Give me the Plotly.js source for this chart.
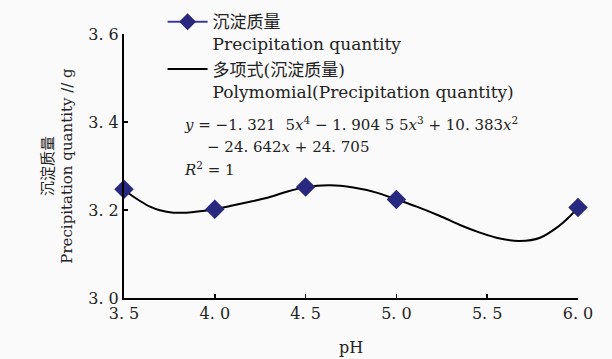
<!DOCTYPE html>
<html>
<head>
<meta charset="utf-8">
<script src="https://cdn.plot.ly/plotly-3.0.1.min.js"></script>
<style>html,body{margin:0;padding:0;background:#fafafa;}</style>
</head>
<body>
<div id="chart" style="width:612px;height:359px;"></div>
<script>
// Measured data points (pH vs precipitation quantity, g)
const phValues = [3.5, 4.0, 4.5, 5.0, 6.0];
const quantity = [3.247, 3.2016, 3.252, 3.224, 3.2055];

// Polynomial trend curve
const curvePh = [3.5, 3.533, 3.588, 3.643, 3.698, 3.772, 3.845, 3.918, 4.0, 4.084, 4.212, 4.304, 4.4, 4.5, 4.634, 4.763, 4.891, 5.0, 5.112, 5.24, 5.35, 5.46, 5.57, 5.68, 5.791, 5.883, 5.956, 6.0];
const curveQty = [3.247, 3.2357, 3.2205, 3.2077, 3.1993, 3.194, 3.194, 3.197, 3.2016, 3.209, 3.2205, 3.2296, 3.242, 3.252, 3.256, 3.251, 3.2395, 3.224, 3.2077, 3.1864, 3.166, 3.1486, 3.135, 3.1295, 3.137, 3.16, 3.186, 3.2055];

const xTickVals = [3.5, 4.0, 4.5, 5.0, 5.5, 6.0];
const xTickText = ["3. 5", "4. 0", "4. 5", "5. 0", "5. 5", "6. 0"];
const yTickVals = [3.0, 3.2, 3.4, 3.6];
const yTickText = ["3. 0", "3. 2", "3. 4", "3. 6"];

const seriesName1 = "沉淀质量<br>Precipitation quantity";
const seriesName2 = "多项式(沉淀质量)<br>Polymomial(Precipitation quantity)";

const FONT = "DejaVu Serif, 'Noto Sans CJK SC', serif";
const navy = "#28287e";

const traces = [
  {
    x: curvePh, y: curveQty, mode: "lines", type: "scatter",
    line: {color: "#000000", width: 2, shape: "spline", smoothing: 0.8},
    showlegend: false, hoverinfo: "skip", cliponaxis: false
  },
  {
    x: phValues, y: quantity, mode: "markers", type: "scatter",
    marker: {symbol: "diamond", size: 15, color: navy},
    showlegend: false, cliponaxis: false
  },
  {
    x: [null], y: [null], mode: "lines+markers", type: "scatter",
    name: seriesName1,
    line: {color: "#3a3a9e", width: 2},
    marker: {symbol: "diamond", size: 13, color: navy}
  },
  {
    x: [null], y: [null], mode: "lines", type: "scatter",
    name: seriesName2,
    line: {color: "#000000", width: 2}
  }
];

const layout = {
  width: 612, height: 359,
  margin: {l: 124, r: 34, t: 34, b: 61, autoexpand: false},
  paper_bgcolor: "#fafafa", plot_bgcolor: "#fafafa",
  font: {family: FONT, size: 15, color: "#222"},
  xaxis: {
    range: [3.5, 6.0], tickvals: xTickVals, ticktext: xTickText,
    showline: true, linecolor: "#000", linewidth: 2,
    ticks: "inside", ticklen: 4, tickwidth: 1.5, tickcolor: "#000",
    showgrid: false, zeroline: false,
    tickfont: {family: FONT, size: 16, color: "#222"},
    title: {text: "pH", standoff: 20, font: {family: FONT, size: 16, color: "#222"}},
    automargin: false
  },
  yaxis: {
    range: [3.0, 3.6], tickvals: yTickVals, ticktext: yTickText,
    showline: true, linecolor: "#000", linewidth: 2,
    ticks: "inside", ticklen: 4, tickwidth: 1.5, tickcolor: "#000",
    showgrid: false, zeroline: false,
    tickfont: {family: FONT, size: 16, color: "#222"},
    title: {text: "沉淀质量<br>Precipitation quantity // g", standoff: 12, font: {family: FONT, size: 15, color: "#222"}},
    automargin: false
  },
  legend: {
    x: 0.085, y: 1.113, xanchor: "left", yanchor: "top",
    bgcolor: "rgba(0,0,0,0)", valign: "top",
    font: {family: FONT, size: 17, color: "#222"},
    itemwidth: 40, tracegroupgap: 0
  },
  annotations: [
    {xref: "paper", yref: "paper", x: 0.128, y: 0.66, xanchor: "left", yanchor: "middle", showarrow: false,
     text: "<i>y</i> = −1. 321  5<i>x</i><sup>4</sup> − 1. 904 5 5<i>x</i><sup>3</sup> + 10. 383<i>x</i><sup>2</sup>",
     font: {family: FONT, size: 15, color: "#222"}},
    {xref: "paper", yref: "paper", x: 0.178, y: 0.572, xanchor: "left", yanchor: "middle", showarrow: false,
     text: "− 24. 642<i>x</i> + 24. 705",
     font: {family: FONT, size: 15, color: "#222"}},
    {xref: "paper", yref: "paper", x: 0.128, y: 0.487, xanchor: "left", yanchor: "middle", showarrow: false,
     text: "<i>R</i><sup>2</sup> = 1",
     font: {family: FONT, size: 15, color: "#222"}}
  ]
};

Plotly.newPlot("chart", traces, layout, {displayModeBar: false, staticPlot: true});
</script>
</body>
</html>
